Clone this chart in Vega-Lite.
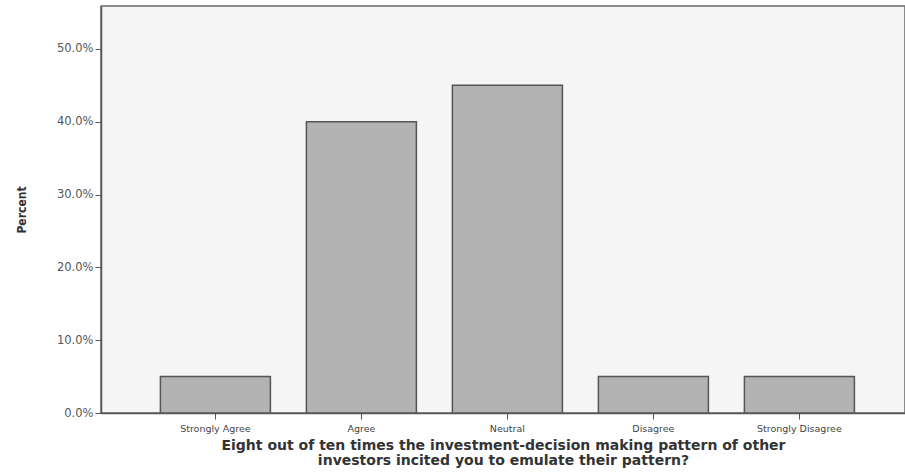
{
  "$schema": "https://vega.github.io/schema/vega-lite/v6.json",
  "autosize": {"type": "none"},
  "padding": {"left": 101, "top": 6, "right": 0, "bottom": 63},
  "width": 804,
  "height": 407,
  "background": "#ffffff",
  "config": {
    "view": {"stroke": "#6a6a6a", "strokeWidth": 1.5, "fill": "#f5f5f5"},
    "axis": {"grid": false}
  },
  "data": {
    "values": [
      {"response": "Strongly Agree", "percent": 0.05},
      {"response": "Agree", "percent": 0.40},
      {"response": "Neutral", "percent": 0.45},
      {"response": "Disagree", "percent": 0.05},
      {"response": "Strongly Disagree", "percent": 0.05}
    ]
  },
  "mark": {"type": "bar", "fill": "#b3b3b3", "stroke": "#555555", "strokeWidth": 1.5},
  "encoding": {
    "x": {
      "field": "response",
      "type": "nominal",
      "sort": null,
      "scale": {"paddingInner": 0.2466, "paddingOuter": 0.3767, "align": 0.54},
      "axis": {
        "title": ["Eight out of ten times the investment-decision making pattern of other", "investors incited you to emulate their pattern?"],
        "titleFont": "DejaVu Sans",
        "titleFontWeight": "bold",
        "titleFontSize": 14,
        "titleColor": "#333333",
        "titleLineHeight": 14.5,
        "titlePadding": 6,
        "labelAngle": 0,
        "labelFont": "DejaVu Sans",
        "labelFontSize": 9.5,
        "labelColor": "#444444",
        "labelPadding": 4,
        "tickSize": 6,
        "tickColor": "#555555",
        "domainColor": "#555555",
        "domainWidth": 1.5
      }
    },
    "y": {
      "field": "percent",
      "type": "quantitative",
      "scale": {"domain": [0, 0.559], "nice": false},
      "axis": {
        "title": "Percent",
        "titleFont": "DejaVu Sans Condensed",
        "titleFontWeight": "bold",
        "titleFontSize": 12,
        "titleColor": "#333333",
        "titlePadding": 28,
        "format": ".1%",
        "values": [0, 0.1, 0.2, 0.3, 0.4, 0.5],
        "labelFont": "DejaVu Sans",
        "labelFontSize": 11.5,
        "labelColor": "#555555",
        "labelPadding": 2,
        "tickSize": 6,
        "tickColor": "#555555",
        "domainColor": "#555555",
        "domainWidth": 1.5
      }
    }
  }
}
